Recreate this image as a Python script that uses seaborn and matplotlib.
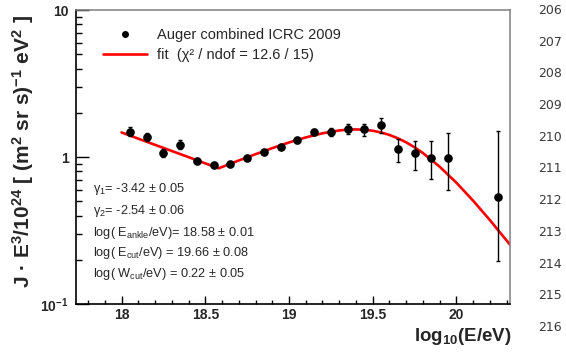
import matplotlib
matplotlib.use('Agg')
import matplotlib.pyplot as plt
from matplotlib.lines import Line2D
from matplotlib.ticker import FixedLocator, MultipleLocator, LogLocator, NullFormatter
import seaborn as sns

# Auger combined spectrum (ICRC 2009), E^3 J / 10^24
log_e = [18.05, 18.15, 18.25, 18.35, 18.45, 18.55, 18.65, 18.75, 18.85, 18.95,
         19.05, 19.15, 19.25, 19.35, 19.45, 19.55, 19.65, 19.75, 19.85, 19.95, 20.25]
flux = [1.486, 1.368, 1.070, 1.213, 0.944, 0.878, 0.900, 0.989, 1.081, 1.175,
        1.299, 1.472, 1.479, 1.550, 1.544, 1.643, 1.128, 1.060, 0.989, 0.984, 0.537]
err_lo = [0.096, 0.077, 0.075, 0.074, 0.030, 0.025, 0.025, 0.025, 0.030, 0.035,
          0.045, 0.067, 0.090, 0.120, 0.150, 0.190, 0.210, 0.240, 0.280, 0.390, 0.340]
err_hi = [0.106, 0.080, 0.070, 0.092, 0.030, 0.025, 0.025, 0.025, 0.030, 0.035,
          0.045, 0.070, 0.090, 0.120, 0.140, 0.200, 0.200, 0.230, 0.290, 0.465, 0.960]

# fit curve
fit_x = [18.0, 18.1, 18.2, 18.3, 18.4, 18.5, 18.58, 18.7, 18.8, 18.9, 19.0, 19.1,
         19.2, 19.3, 19.35, 19.4, 19.45, 19.5, 19.55, 19.6, 19.65, 19.7, 19.75,
         19.8, 19.9, 20.0, 20.1, 20.2, 20.3, 20.32]
fit_y = [1.469, 1.333, 1.210, 1.099, 0.998, 0.905, 0.838, 0.947, 1.045, 1.149,
         1.256, 1.359, 1.450, 1.516, 1.534, 1.541, 1.532, 1.509, 1.469, 1.413,
         1.341, 1.258, 1.164, 1.064, 0.859, 0.668, 0.504, 0.372, 0.270, 0.253]

x_ticks = [18, 18.5, 19, 19.5, 20]
x_tick_labels = ['18', '18.5', '19', '19.5', '20']
y_ticks = [0.1, 1, 10]
y_tick_labels = [r'$\mathbf{10^{-1}}$', '1', '10']

fit_params = [
    'γ$_{1}$= -3.42 ± 0.05',
    'γ$_{2}$= -2.54 ± 0.06',
    r'log( E$_{\mathrm{ankle}}$/eV)= 18.58 ± 0.01',
    r'log( E$_{\mathrm{cut}}$/eV) = 19.66 ± 0.08',
    r'log( W$_{\mathrm{cut}}$/eV) = 0.22 ± 0.05',
]
line_numbers = [str(n) for n in range(206, 217)]

sns.set_style('ticks')
plt.rcParams['font.family'] = ['Liberation Sans', 'DejaVu Sans']
plt.rcParams['mathtext.fontset'] = 'custom'
plt.rcParams['mathtext.rm'] = 'Liberation Sans'
plt.rcParams['mathtext.it'] = 'Liberation Sans:italic'
plt.rcParams['mathtext.bf'] = 'Liberation Sans:bold'

fig = plt.figure(figsize=(5.66, 3.54), dpi=100)
ax = fig.add_axes([0.1334, 0.1412, 0.7677, 0.8305])

sns.lineplot(x=fit_x, y=fit_y, color='red', lw=1.9, ax=ax, zorder=2)
ax.errorbar(log_e, flux, yerr=[err_lo, err_hi], fmt='o', color='black',
            ms=5.2, elinewidth=1.0, capsize=1.3, capthick=1.0, zorder=3)

ax.set_yscale('log')
ax.set_xlim(17.725, 20.32)
ax.set_ylim(0.1, 10)

ax.xaxis.set_major_locator(FixedLocator(x_ticks))
ax.set_xticklabels(x_tick_labels, fontweight='bold', fontsize=10)
ax.xaxis.set_minor_locator(MultipleLocator(0.1))
ax.yaxis.set_major_locator(FixedLocator(y_ticks))
ax.set_yticklabels(y_tick_labels, fontweight='bold', fontsize=10)
ax.yaxis.set_minor_locator(LogLocator(base=10, subs=range(2, 10)))
ax.yaxis.set_minor_formatter(NullFormatter())

# ticks drawn inside, ROOT style
ax.tick_params(axis='both', which='both', direction='in', bottom=True, left=True,
               top=False, right=False, color='black', width=1.0)
ax.tick_params(axis='x', which='major', length=6, pad=3)
ax.tick_params(axis='x', which='minor', length=2.8)
ax.tick_params(axis='y', which='major', length=9, pad=5)
ax.tick_params(axis='y', which='minor', length=4.5)

for side in ['left', 'bottom']:
    ax.spines[side].set_linewidth(1.2)
    ax.spines[side].set_color('black')
for side in ['top', 'right']:
    ax.spines[side].set_linewidth(1.1)
    ax.spines[side].set_color('#808080')

ax.set_xlabel('')
ax.set_ylabel('')
fig.text(0.903, 0.037, r'$\mathbf{log_{10}(E/eV)}$', ha='right', va='baseline',
         fontsize=13.5)
fig.text(0.040, 0.573, r'$\mathbf{J\ ·\ E^{3}/10^{24}\ [\ (m^{2}\ sr\ s)^{-1}\ eV^{2}\ ]}$',
         rotation=90, ha='center', va='center', fontsize=15)

handles = [Line2D([], [], marker='o', ls='none', color='black', ms=4),
           Line2D([], [], color='red', lw=1.9)]
labels = ['Auger combined ICRC 2009', 'fit  (χ² / ndof = 12.6 / 15)']
ax.legend(handles, labels, loc='upper left', bbox_to_anchor=(0.063, 0.938),
          frameon=False, fontsize=10.5, handlelength=3.05, handletextpad=0.65,
          labelspacing=0.42, borderpad=0, borderaxespad=0)

param_y = [0.381, 0.306, 0.231, 0.163, 0.092]
for txt, yy in zip(fit_params, param_y):
    ax.text(0.040, yy, txt, transform=ax.transAxes, fontsize=9.2, va='baseline')

for i, num in enumerate(line_numbers):
    fig.text(0.972, 1 - (10.5 + 31.7 * i) / 354, num, ha='center', va='center',
             fontsize=9, color='#3a3a3a', family='DejaVu Sans')

fig.savefig('out.png', dpi=100)
